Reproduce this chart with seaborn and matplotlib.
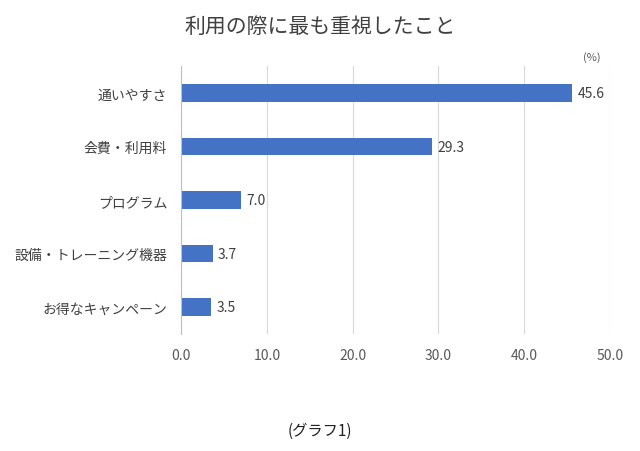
import matplotlib
matplotlib.use("Agg")
import matplotlib.pyplot as plt
import seaborn as sns
import pandas as pd

categories = ["通いやすさ", "会費・利用料", "プログラム", "設備・トレーニング機器", "お得なキャンペーン"]
values = [45.6, 29.3, 7.0, 3.7, 3.5]
xticks = [0, 10, 20, 30, 40, 50]

df = pd.DataFrame({"cat": categories, "val": values})
plt.rcParams["font.family"] = "Noto Sans CJK JP"

fig = plt.figure(figsize=(6.4, 4.52), dpi=100)
ax = fig.add_axes([0.283, 0.259, 0.67, 0.592])
sns.barplot(data=df, y="cat", x="val", color="#4472C4", width=0.33, orient="h", ax=ax, saturation=1)
for i, v in enumerate(values):
    ax.text(v + 0.6, i, f"{v:.1f}", va="center", ha="left", fontsize=10, color="#404040")

ax.set_xlim(0, 50)
ax.set_xticks(xticks)
ax.set_xticklabels([f"{t:.1f}" for t in xticks], fontsize=10, color="#595959")
ax.tick_params(axis="y", labelsize=10, colors="#404040", length=0, pad=10)
ax.tick_params(axis="x", length=0, pad=10)
ax.set_xlabel("")
ax.set_ylabel("")
ax.grid(axis="x", color="#D9D9D9", linewidth=0.8)
ax.set_axisbelow(True)
for s in ["top", "right", "bottom"]:
    ax.spines[s].set_visible(False)
ax.spines["left"].set_color("#BFBFBF")

fig.text(0.5, 0.94, "利用の際に最も重視したこと", ha="center", va="center", fontsize=15, color="#404040")
fig.text(0.925, 0.872, "(%)", ha="center", va="center", fontsize=8, color="#595959")
fig.text(0.5, 0.045, "(グラフ1)", ha="center", va="center", fontsize=11, color="#202020")

fig.savefig("out.png", dpi=100)
